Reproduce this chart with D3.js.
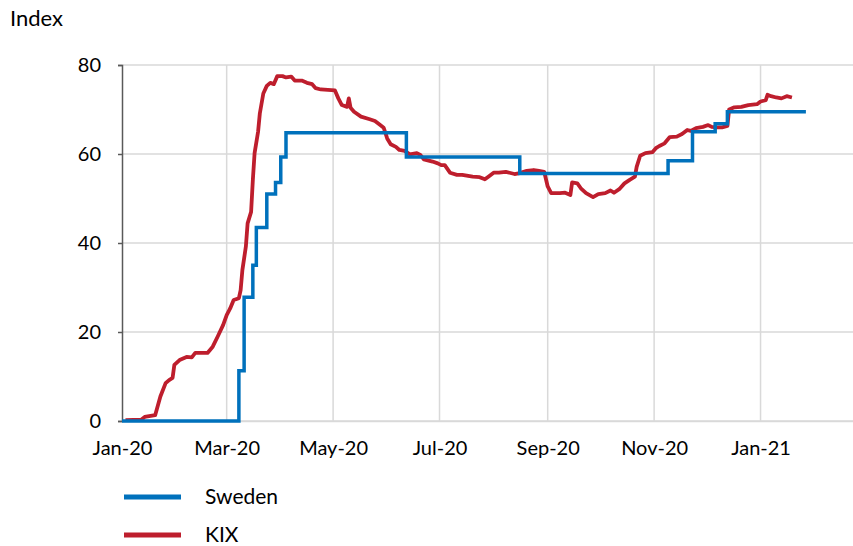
<!DOCTYPE html>
<html><head><meta charset="utf-8">
<script src="https://cdn.jsdelivr.net/npm/d3@7"></script>
<style>body{margin:0;background:#fff}svg{display:block}text{font-family:Lato,"Open Sans",sans-serif;fill:#000}</style>
</head><body>
<svg id="c" width="853" height="546"></svg>
<script>
const yTicks = [0, 20, 40, 60, 80];
const xTickDates = ["2020-01-01","2020-03-01","2020-05-01","2020-07-01","2020-09-01","2020-11-01","2021-01-01"];
const seriesNames = ["Sweden", "KIX"];
const seriesColors = ["#0071bc", "#be1e2d"];

const swedenDates = ["2020-01-01","2020-03-08","2020-03-11","2020-03-16","2020-03-18","2020-03-24","2020-03-29","2020-04-01","2020-04-04","2020-06-12","2020-08-16","2020-11-09","2020-11-23","2020-12-06","2020-12-13","2021-01-27"];
const swedenValues = [0,11.3,27.8,35.0,43.5,51.0,53.6,59.3,64.8,59.3,55.6,58.5,65.0,66.8,69.5,69.5];

const kixDates = ["2020-01-03","2020-01-12","2020-01-14","2020-01-20","2020-01-23","2020-01-26","2020-01-28","2020-01-30","2020-01-31","2020-02-03","2020-02-07","2020-02-10","2020-02-12","2020-02-19","2020-02-22","2020-02-25","2020-02-28","2020-03-01","2020-03-03","2020-03-05","2020-03-08","2020-03-09","2020-03-10","2020-03-12","2020-03-13","2020-03-15","2020-03-16","2020-03-17","2020-03-19","2020-03-20","2020-03-22","2020-03-24","2020-03-26","2020-03-28","2020-03-30","2020-04-02","2020-04-04","2020-04-07","2020-04-09","2020-04-13","2020-04-16","2020-04-19","2020-04-21","2020-04-24","2020-04-28","2020-05-02","2020-05-04","2020-05-06","2020-05-09","2020-05-10","2020-05-11","2020-05-13","2020-05-17","2020-05-22","2020-05-25","2020-05-28","2020-05-30","2020-06-01","2020-06-03","2020-06-06","2020-06-08","2020-06-11","2020-06-14","2020-06-18","2020-06-20","2020-06-22","2020-06-27","2020-06-30","2020-07-02","2020-07-04","2020-07-07","2020-07-11","2020-07-14","2020-07-20","2020-07-24","2020-07-27","2020-07-29","2020-08-01","2020-08-04","2020-08-08","2020-08-13","2020-08-16","2020-08-20","2020-08-24","2020-08-27","2020-08-30","2020-09-01","2020-09-03","2020-09-08","2020-09-11","2020-09-14","2020-09-15","2020-09-18","2020-09-20","2020-09-23","2020-09-27","2020-09-30","2020-10-04","2020-10-07","2020-10-09","2020-10-12","2020-10-15","2020-10-18","2020-10-21","2020-10-22","2020-10-24","2020-10-27","2020-10-31","2020-11-02","2020-11-04","2020-11-07","2020-11-10","2020-11-14","2020-11-17","2020-11-20","2020-11-22","2020-11-25","2020-11-29","2020-12-02","2020-12-04","2020-12-07","2020-12-10","2020-12-13","2020-12-14","2020-12-17","2020-12-21","2020-12-25","2020-12-30","2021-01-01","2021-01-04","2021-01-05","2021-01-07","2021-01-10","2021-01-13","2021-01-16","2021-01-19"];
const kixValues = [0.2,0.3,0.9,1.3,5.5,8.5,9.2,9.7,12.6,13.7,14.4,14.3,15.3,15.3,16.7,19.1,21.6,23.8,25.3,27.2,27.6,29.4,33.9,39.2,44.4,47.0,54.2,60.2,65.0,69.1,73.6,75.3,76.0,75.7,77.5,77.5,77.2,77.4,76.5,76.5,76.0,75.7,74.8,74.5,74.4,74.3,72.5,71.0,70.6,72.5,70.4,69.5,68.4,67.8,67.4,66.5,65.9,63.5,62.2,61.6,60.9,60.7,59.9,60.2,59.8,58.8,58.3,57.9,57.5,57.5,55.8,55.3,55.3,54.9,54.8,54.3,54.9,55.8,55.8,56.0,55.5,55.7,56.2,56.4,56.2,56.0,52.7,51.2,51.2,51.3,50.8,53.6,53.4,52.3,51.2,50.3,51.0,51.2,51.8,51.3,52.1,53.4,54.2,54.9,57.1,59.6,60.2,60.4,61.3,61.8,62.4,63.8,63.9,64.5,65.4,65.2,65.8,66.1,66.5,66.1,66.0,66.0,66.3,70.0,70.5,70.6,71.0,71.2,71.8,72.1,73.3,73.0,72.7,72.5,73.0,72.7];

const parse = d3.timeParse("%Y-%m-%d");
const sweden = swedenDates.map((d,i)=>({date:parse(d), value:swedenValues[i]}));
const kix = kixDates.map((d,i)=>({date:parse(d), value:kixValues[i]}));

const svg = d3.select("#c");
const pL = 122, pR = 853, pT = 65, pB = 421;
const x = d3.scaleTime().domain([parse("2020-01-01"), parse("2021-02-23")]).range([pL, pR]);
const y = d3.scaleLinear().domain([0, 80]).range([pB, pT]);

// horizontal gridlines
svg.append("g").selectAll("line").data(yTicks).join("line")
  .attr("x1", pL).attr("x2", pR).attr("y1", d=>y(d)).attr("y2", d=>y(d))
  .attr("stroke", "#d9d9d9").attr("stroke-width", 1.5);
// vertical gridlines
const xt = xTickDates.map(parse);
svg.append("g").selectAll("line").data(xt.slice(1)).join("line")
  .attr("x1", d=>x(d)).attr("x2", d=>x(d)).attr("y1", pT).attr("y2", pB)
  .attr("stroke", "#d9d9d9").attr("stroke-width", 1.5);

// y axis
const ya = svg.append("g").attr("transform", `translate(${pL},0)`)
  .call(d3.axisLeft(y).tickValues(yTicks).tickSize(4).tickPadding(17));
ya.select(".domain").attr("stroke", "#595959").attr("stroke-width", 1.5);
ya.selectAll(".tick line").attr("stroke", "#595959").attr("stroke-width", 1.5);
ya.selectAll("text").style("font-size", "20px").style("font-family", "Lato");

// x axis
const xa = svg.append("g").attr("transform", `translate(0,${pB})`)
  .call(d3.axisBottom(x).tickValues(xt).tickFormat(d3.timeFormat("%b-%y")).tickSize(0).tickPadding(20));
xa.select(".domain").attr("stroke", "#d9d9d9").attr("stroke-width", 1.5);
xa.selectAll("text").style("font-size", "20px").style("font-family", "Lato");

// lines
const kixLine = d3.line().x(d=>x(d.date)).y(d=>y(d.value));
svg.append("path").datum(kix).attr("d", kixLine)
  .attr("fill","none").attr("stroke", seriesColors[1]).attr("stroke-width", 3.8).attr("stroke-linejoin","round");
const swLine = d3.line().x(d=>x(d.date)).y(d=>y(d.value)).curve(d3.curveStepAfter);
svg.append("path").datum(sweden).attr("d", swLine)
  .attr("fill","none").attr("stroke", seriesColors[0]).attr("stroke-width", 3.5);

// y title
svg.append("text").attr("x", 10).attr("y", 26).style("font-size","22px").text("Index");

// legend
const lg = svg.append("g").selectAll("g").data(seriesNames).join("g")
  .attr("transform", (d,i)=>`translate(124,${497 + i*38})`);
lg.append("line").attr("x1",0).attr("x2",57).attr("y1",0).attr("y2",0)
  .attr("stroke",(d,i)=>seriesColors[i]).attr("stroke-width",5);
lg.append("text").attr("x",81).attr("y",0).attr("dy","0.35em").style("font-size","21px").text(d=>d);
</script>
</body></html>
